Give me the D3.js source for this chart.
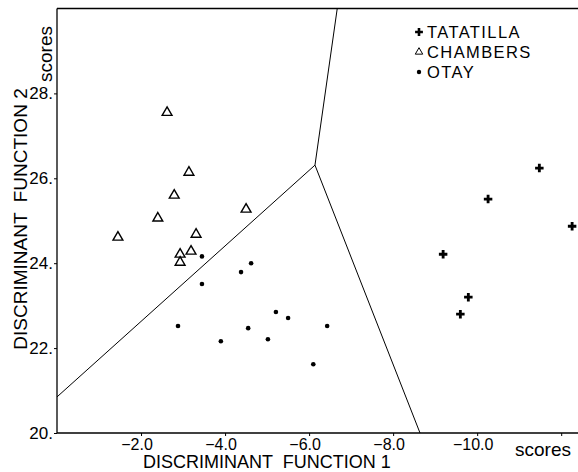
<!DOCTYPE html>
<html lang="en">
<head>
    <meta charset="utf-8">
    <title>Discriminant scores</title>
    <style>
        body { margin: 0; background: #fff; }
        text { font-family: "Liberation Sans", Arial, Helvetica, sans-serif; fill: #000; }
    </style>
</head>
<body>
    <svg width="578" height="472"></svg>
    <script src="https://cdn.jsdelivr.net/npm/d3@7"></script>
    <script>
        // discriminant function 1 / function 2 scores
        const tatatilla = [
            [-11.48, 26.24], [-10.26, 25.51], [-12.26, 24.87],
            [-9.19, 24.21], [-9.79, 23.20], [-9.60, 22.80]
        ];
        const chambers = [
            [-2.62, 27.55], [-3.14, 26.14], [-2.79, 25.60], [-2.40, 25.06],
            [-1.45, 24.61], [-4.50, 25.27], [-3.31, 24.68], [-3.19, 24.28],
            [-2.93, 24.21], [-2.93, 24.02]
        ];
        const otay = [
            [-3.45, 24.16], [-4.62, 24.00], [-4.38, 23.79], [-3.45, 23.51],
            [-2.88, 22.52], [-5.21, 22.85], [-5.50, 22.71], [-6.43, 22.52],
            [-4.55, 22.47], [-3.90, 22.16], [-5.02, 22.21], [-6.10, 21.62]
        ];
        // group boundaries, all meeting at one point
        const junction = [-6.14, 26.31];
        const boundaryEnds = [[0, 20.85], [-6.67, 30], [-8.64, 20]];

        const xTicks = [-2, -4, -6, -8, -10];
        const yTicks = [20, 22, 24, 26, 28];
        const legendNames = ["TATATILLA", "CHAMBERS", "OTAY"];

        const svg = d3.select("svg");
        const width = +svg.attr("width");

        const x = d3.scaleLinear().domain([0, -12.4]).range([57, 578]);
        const y = d3.scaleLinear().domain([20, 30]).range([433, 8.5]);

        // frame: left, top, bottom
        const frame = svg.append("g").attr("stroke", "#000").attr("stroke-width", 1.3);
        frame.append("line").attr("x1", x(0)).attr("x2", x(0)).attr("y1", y(30)).attr("y2", y(20));
        frame.append("line").attr("x1", x(0)).attr("x2", width).attr("y1", y(30)).attr("y2", y(30));
        frame.append("line").attr("x1", x(0)).attr("x2", width).attr("y1", y(20)).attr("y2", y(20));

        const xAxis = svg.append("g")
            .attr("transform", `translate(0,${y(20)})`)
            .call(d3.axisBottom(x).tickValues(xTicks.concat([-12])).tickSize(3).tickPadding(3)
                .tickFormat(d => d === -12 ? "" : "\u2212" + Math.abs(d).toFixed(1)));
        xAxis.select(".domain").remove();
        xAxis.selectAll("text")
            .attr("font-size", 16)
            .attr("font-family", null)
            .attr("dx", -4.5);

        const yAxis = svg.append("g")
            .attr("transform", `translate(${x(0)},0)`)
            .call(d3.axisLeft(y).tickValues(yTicks).tickSize(3).tickPadding(1)
                .tickFormat(d => d + "."));
        yAxis.select(".domain").remove();
        yAxis.selectAll("text")
            .attr("font-size", 17)
            .attr("font-family", null);

        // axis titles
        svg.append("text")
            .attr("x", 143).attr("y", 468)
            .attr("font-size", 18)
            .style("white-space", "pre")
            .text("DISCRIMINANT  FUNCTION 1");
        svg.append("text")
            .attr("x", 515).attr("y", 456)
            .attr("font-size", 19)
            .text("scores");
        svg.append("text")
            .attr("transform", "translate(27,219) rotate(-90)")
            .attr("text-anchor", "middle")
            .attr("font-size", 19)
            .style("white-space", "pre")
            .text("DISCRIMINANT  FUNCTION 2");
        svg.append("text")
            .attr("transform", "translate(52,82) rotate(-90)")
            .attr("font-size", 19)
            .text("scores");

        // boundaries
        svg.append("g")
            .selectAll("line")
            .data(boundaryEnds)
            .join("line")
            .attr("x1", x(junction[0])).attr("y1", y(junction[1]))
            .attr("x2", d => x(d[0])).attr("y2", d => y(d[1]))
            .attr("stroke", "#000")
            .attr("stroke-width", 1);

        const cross = d3.symbol(d3.symbolCross, 40);
        const tri = d3.symbol(d3.symbolTriangle, 42);

        svg.append("g").selectAll("path")
            .data(tatatilla)
            .join("path")
            .attr("transform", d => `translate(${x(d[0])},${y(d[1])})`)
            .attr("d", cross)
            .attr("fill", "#000");

        svg.append("g").selectAll("path")
            .data(chambers)
            .join("path")
            .attr("transform", d => `translate(${x(d[0])},${y(d[1])})`)
            .attr("d", tri)
            .attr("fill", "#fff")
            .attr("stroke", "#000")
            .attr("stroke-width", 1.4);

        svg.append("g").selectAll("circle")
            .data(otay)
            .join("circle")
            .attr("cx", d => x(d[0]))
            .attr("cy", d => y(d[1]))
            .attr("r", 2.3)
            .attr("fill", "#000");

        // legend
        const legend = svg.append("g").attr("transform", "translate(419,32)");
        const rows = legend.selectAll("g")
            .data(legendNames)
            .join("g")
            .attr("transform", (d, i) => `translate(0,${i * 20})`);
        rows.append("text")
            .attr("x", 8).attr("y", 6)
            .attr("font-size", 16.5)
            .attr("letter-spacing", 1.4)
            .text(d => d);
        rows.filter((d, i) => i === 0).append("path")
            .attr("d", d3.symbol(d3.symbolCross, 34))
            .attr("fill", "#000");
        rows.filter((d, i) => i === 1).append("path")
            .attr("d", d3.symbol(d3.symbolTriangle, 24))
            .attr("fill", "#fff")
            .attr("stroke", "#000");
        rows.filter((d, i) => i === 2).append("circle")
            .attr("r", 2.2)
            .attr("fill", "#000");
    </script>
</body>
</html>
